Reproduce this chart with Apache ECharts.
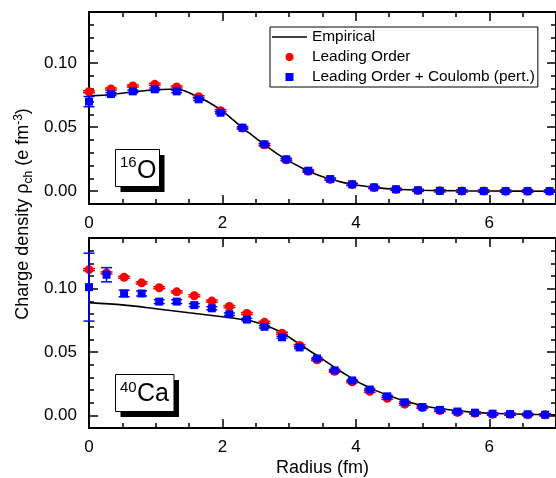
<!DOCTYPE html>
<html><head><meta charset="utf-8">
<script src="https://cdn.jsdelivr.net/npm/echarts@6/dist/echarts.min.js"></script>
<style>html,body{margin:0;padding:0;background:#fff}#c{width:556px;height:478px}</style>
</head><body><div id="c"></div>
<script>
// ---------- data ----------
const xMajor = [0, 2, 4, 6];
const yMajor = [0, 0.05, 0.10];
const legendNames = ['Empirical', 'Leading Order', 'Leading Order + Coulomb (pert.)'];
const panelLabels = [['16', 'O'], ['40', 'Ca']];

// 16O
const rO = [0, 0.329, 0.657, 0.986, 1.315, 1.644, 1.972, 2.301, 2.630, 2.958, 3.287, 3.616, 3.944, 4.273, 4.602, 4.931, 5.259, 5.588, 5.917, 6.245, 6.574, 6.903];
const loO = [0.0777, 0.0798, 0.0822, 0.0835, 0.0814, 0.0738, 0.0629, 0.0494, 0.0362, 0.0245, 0.0156, 0.0092, 0.0052, 0.0028, 0.0014, 0.0006, 0.0003, 0.0001, 0.0001, 0.0000, 0.0000, 0.0000];
const loErrO = [0.0008, 0.0008, 0.0008, 0.0008, 0.0008, 0.0008, 0.0008, 0.0008, 0.0008, 0.0008, 0.0008, 0.0008, 0.0008, 0.0008, 0.0008, 0.0008, 0.0008, 0.0008, 0.0008, 0.0008, 0.0008, 0.0008];
const lcO = [0.0700, 0.0759, 0.0780, 0.0796, 0.0780, 0.0718, 0.0613, 0.0496, 0.0366, 0.0249, 0.0160, 0.0095, 0.0054, 0.0030, 0.0015, 0.0007, 0.0003, 0.0002, 0.0001, 0.0001, 0.0001, 0.0001];
const lcErrO = [0.0040, 0.0012, 0.0010, 0.0010, 0.0010, 0.0009, 0.0008, 0.0008, 0.0008, 0.0008, 0.0008, 0.0008, 0.0008, 0.0008, 0.0008, 0.0008, 0.0008, 0.0008, 0.0008, 0.0008, 0.0008, 0.0008];
const empRO = [0, 0.25, 0.5, 0.75, 1.0, 1.2, 1.4, 1.6, 1.8, 2.0, 2.2, 2.4, 2.6, 2.8, 3.0, 3.2, 3.4, 3.6, 3.8, 4.0, 4.3, 4.6, 5.0, 5.5, 6.0, 7.0];
const empO = [0.0746, 0.0752, 0.0765, 0.0781, 0.0793, 0.0796, 0.0788, 0.0745, 0.0693, 0.0625, 0.0540, 0.0455, 0.0375, 0.0300, 0.0235, 0.0180, 0.0133, 0.0097, 0.0069, 0.0048, 0.0028, 0.0015, 0.0007, 0.0003, 0.0001, 0.0000];

// 40Ca
const rCa = [0, 0.263, 0.526, 0.789, 1.052, 1.315, 1.578, 1.841, 2.104, 2.367, 2.630, 2.893, 3.156, 3.419, 3.682, 3.945, 4.208, 4.471, 4.734, 4.997, 5.260, 5.523, 5.786, 6.049, 6.312, 6.575, 6.838];
const loCa = [0.1150, 0.1124, 0.1090, 0.1046, 0.1007, 0.0975, 0.0944, 0.0902, 0.0859, 0.0804, 0.0734, 0.0648, 0.0551, 0.0439, 0.0348, 0.0265, 0.0189, 0.0134, 0.0088, 0.0062, 0.0038, 0.0023, 0.0017, 0.0009, 0.0008, 0.0005, 0.0004];
const loErrCa = [0.0008, 0.0008, 0.0008, 0.0008, 0.0008, 0.0008, 0.0008, 0.0008, 0.0008, 0.0008, 0.0008, 0.0008, 0.0008, 0.0008, 0.0008, 0.0008, 0.0008, 0.0008, 0.0008, 0.0008, 0.0008, 0.0008, 0.0008, 0.0008, 0.0008, 0.0008, 0.0008];
const lcCa = [0.1012, 0.1110, 0.0962, 0.0962, 0.0898, 0.0898, 0.0870, 0.0845, 0.0798, 0.0756, 0.0699, 0.0616, 0.0536, 0.0449, 0.0355, 0.0275, 0.0204, 0.0150, 0.0103, 0.0066, 0.0043, 0.0030, 0.0021, 0.0013, 0.0010, 0.0008, 0.0005];
const lcErrCa = [0.0268, 0.0056, 0.0026, 0.0020, 0.0015, 0.0015, 0.0012, 0.0012, 0.0010, 0.0010, 0.0009, 0.0008, 0.0008, 0.0008, 0.0008, 0.0008, 0.0008, 0.0008, 0.0008, 0.0008, 0.0008, 0.0008, 0.0008, 0.0008, 0.0008, 0.0008, 0.0008];
const empRCa = [0, 0.5, 1.0, 1.5, 2.0, 2.3, 2.5, 2.7, 2.9, 3.1, 3.3, 3.5, 3.7, 3.9, 4.1, 4.3, 4.5, 4.7, 4.9, 5.1, 5.4, 5.7, 6.0, 6.5, 7.0];
const empCa = [0.0890, 0.0872, 0.0842, 0.0810, 0.0778, 0.0756, 0.0735, 0.0700, 0.0650, 0.0582, 0.0512, 0.0444, 0.0372, 0.0306, 0.0245, 0.0195, 0.0155, 0.0118, 0.0089, 0.0066, 0.0044, 0.0027, 0.0016, 0.0009, 0.0004];

// ---------- chart ----------
const FONT = '"Liberation Sans", Arial, Helvetica, sans-serif';
const RED = '#ff0000', BLUE = '#0000ff';
const XMIN = 0, XMAX = 7, YMIN = -0.01, YMAX = 0.14;
const gridBoxes = [{left: 89, top: 12, width: 475, height: 192}, {left: 89, top: 238, width: 475, height: 192}];

const xAxes = [], yAxes = [];
const lineSt = {color: '#000', width: 2};
const tickSt = {color: '#000', width: 1.5};
gridBoxes.forEach((g, gi) => {
  const bx = {gridIndex: gi, type: 'value', min: XMIN, max: XMAX, splitLine: {show: false},
    axisLine: {show: true, onZero: false, lineStyle: lineSt}};
  const by = {gridIndex: gi, type: 'value', min: YMIN, max: YMAX, splitLine: {show: false},
    axisLine: {show: true, onZero: false, lineStyle: lineSt}};
  xAxes.push(Object.assign({}, bx, {position: 'bottom', interval: 0.5, axisLabel: {show: false},
    axisTick: {show: true, inside: true, length: 5, lineStyle: tickSt}}));
  const xm = Object.assign({}, bx, {position: 'bottom',
    axisTick: {show: true, inside: true, length: 9, customValues: xMajor, lineStyle: tickSt},
    axisLabel: {show: true, customValues: xMajor, margin: 11, fontSize: 17, fontFamily: FONT, color: '#000',
      formatter: v => String(v)}});
  if (gi === 1) {
    Object.assign(xm, {name: 'Radius (fm)', nameLocation: 'middle', nameGap: 31,
      nameTextStyle: {fontSize: 18, fontFamily: FONT, color: '#000'}});
  }
  xAxes.push(xm);
  xAxes.push(Object.assign({}, bx, {position: 'top', interval: 0.5, axisLabel: {show: false},
    axisTick: {show: true, inside: true, length: 5, lineStyle: tickSt}}));
  xAxes.push(Object.assign({}, bx, {position: 'top', axisLabel: {show: false},
    axisTick: {show: true, inside: true, length: 9, customValues: xMajor, lineStyle: tickSt}}));
  yAxes.push(Object.assign({}, by, {position: 'left', interval: 0.01, axisLabel: {show: false},
    axisTick: {show: true, inside: true, length: 5, lineStyle: tickSt}}));
  yAxes.push(Object.assign({}, by, {position: 'left',
    axisTick: {show: true, inside: true, length: 9, customValues: yMajor, lineStyle: tickSt},
    axisLabel: {show: true, customValues: yMajor, margin: 12, fontSize: 17, fontFamily: FONT, color: '#000',
      formatter: v => v.toFixed(2)}}));
  yAxes.push(Object.assign({}, by, {position: 'right', interval: 0.01, axisLabel: {show: false},
    axisTick: {show: true, inside: true, length: 5, lineStyle: tickSt}}));
  yAxes.push(Object.assign({}, by, {position: 'right', axisLabel: {show: false},
    axisTick: {show: true, inside: true, length: 9, customValues: yMajor, lineStyle: tickSt}}));
});

function zip(a, b, c) { return a.map((v, i) => c ? [v, b[i], c[i]] : [v, b[i]]); }

function errRender(capHalf, color) {
  return function (params, api) {
    const x = api.value(0), y = api.value(1), e = api.value(2);
    const t = api.coord([x, y + e]), b = api.coord([x, y - e]);
    const st = {stroke: color, lineWidth: 1.5};
    return {type: 'group', children: [
      {type: 'line', shape: {x1: t[0], y1: t[1], x2: b[0], y2: b[1]}, style: st},
      {type: 'line', shape: {x1: t[0] - capHalf, y1: t[1], x2: t[0] + capHalf, y2: t[1]}, style: st},
      {type: 'line', shape: {x1: b[0] - capHalf, y1: b[1], x2: b[0] + capHalf, y2: b[1]}, style: st}
    ]};
  };
}

const panels = [
  {r: rO, lo: loO, loErr: loErrO, lc: lcO, lcErr: lcErrO, er: empRO, ev: empO},
  {r: rCa, lo: loCa, loErr: loErrCa, lc: lcCa, lcErr: lcErrCa, er: empRCa, ev: empCa}
];
const series = [];
panels.forEach((p, gi) => {
  const ax = {xAxisIndex: gi * 4, yAxisIndex: gi * 4};
  series.push(Object.assign({type: 'line', name: legendNames[0], data: zip(p.er, p.ev), smooth: 0.3,
    symbol: 'none', lineStyle: {color: '#000', width: 1.6}, itemStyle: {color: '#000'}, z: 2, silent: true}, ax));
  series.push(Object.assign({type: 'custom', name: 'errLO' + gi, data: zip(p.r, p.lo, p.loErr),
    renderItem: errRender(6, RED), encode: {x: 0, y: 1}, z: 3, silent: true}, ax));
  series.push(Object.assign({type: 'scatter', name: legendNames[1], data: zip(p.r, p.lo), symbol: 'circle',
    symbolSize: 9, itemStyle: {color: RED, opacity: 1}, z: 4, silent: true}, ax));
  series.push(Object.assign({type: 'custom', name: 'errLC' + gi, data: zip(p.r, p.lc, p.lcErr),
    renderItem: errRender(5.5, BLUE), encode: {x: 0, y: 1}, z: 5, silent: true}, ax));
  series.push(Object.assign({type: 'scatter', name: legendNames[2], data: zip(p.r, p.lc), symbol: 'rect',
    symbolSize: 8, itemStyle: {color: BLUE, opacity: 1}, z: 6, silent: true}, ax));
});

function insetBox(x, y, w, h, sup, main, supFs, mainFs, supX, supMid, mainX, mainMid) {
  return [
    {type: 'rect', shape: {x: x + 5, y: y + 5.5, width: w, height: h}, style: {fill: '#000'}, z: 50},
    {type: 'rect', shape: {x: x, y: y, width: w, height: h}, style: {fill: '#fff', stroke: '#000', lineWidth: 1}, z: 51},
    {type: 'text', x: supX, y: supMid, style: {text: sup, fontSize: supFs, fontFamily: FONT, fill: '#000', align: 'left', verticalAlign: 'middle'}, z: 52},
    {type: 'text', x: mainX, y: mainMid, style: {text: main, fontSize: mainFs, fontFamily: FONT, fill: '#000', align: 'left', verticalAlign: 'middle'}, z: 52}
  ];
}

const graphic = [].concat(
  insetBox(115.5, 149.5, 44, 37, panelLabels[0][0], panelLabels[0][1], 15, 25, 120, 163, 137, 171),
  insetBox(115.5, 374.5, 58.5, 37, panelLabels[1][0], panelLabels[1][1], 15, 25, 120, 388, 137, 394.5),
  [{
    type: 'text', x: 23.5, y: 214, rotation: Math.PI / 2, z: 60,
    style: {
      text: '{a|Charge density ρ}{b|ch}{a| (e fm}{c|-3}{a|)}',
      align: 'center', verticalAlign: 'middle',
      rich: {
        a: {fontSize: 18, lineHeight: 22, fontFamily: FONT, fill: '#000'},
        b: {fontSize: 12, lineHeight: 12, fontFamily: FONT, fill: '#000', verticalAlign: 'bottom'},
        c: {fontSize: 12, lineHeight: 12, fontFamily: FONT, fill: '#000', verticalAlign: 'top'}
      }
    }
  }]
);

const chart = echarts.init(document.getElementById('c'), null, {renderer: 'canvas'});
chart.setOption({
  animation: false,
  backgroundColor: '#fff',
  grid: gridBoxes.map(g => Object.assign({containLabel: false, show: false}, g)),
  xAxis: xAxes,
  yAxis: yAxes,
  legend: {
    data: [
      {name: legendNames[0], icon: 'path://M0,0H35V1.6H0Z', itemStyle: {color: '#000'}},
      {name: legendNames[1], icon: 'circle', itemStyle: {color: RED}},
      {name: legendNames[2], icon: 'path://M0,0H10V10H0Z', itemStyle: {color: BLUE}}
    ],
    orient: 'vertical', left: 270, top: 27, symbolKeepAspect: true,
    padding: [0, 3, 0, 2], itemGap: 0, itemWidth: 35, itemHeight: 8,
    backgroundColor: '#fff', borderColor: '#000', borderWidth: 1, selectedMode: false,
    textStyle: {fontSize: 15.4, lineHeight: 20, fontFamily: FONT, color: '#000'}, z: 40
  },
  graphic: graphic,
  series: series
});
</script>
</body></html>
